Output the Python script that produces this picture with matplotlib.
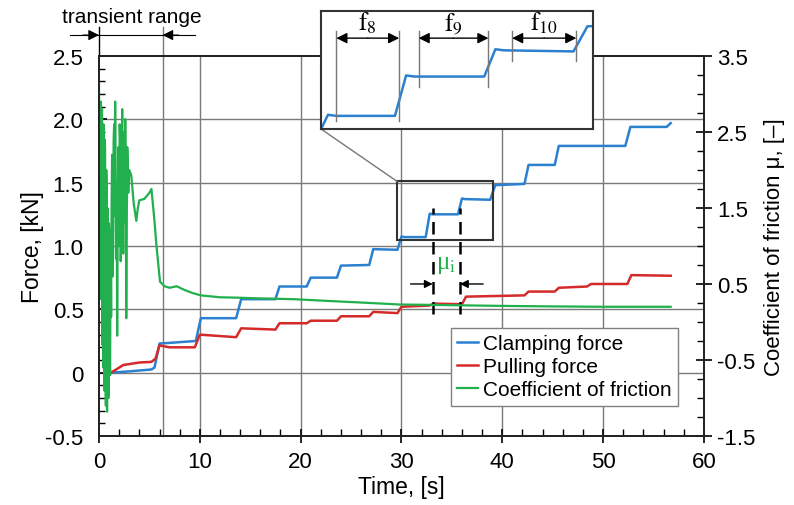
import matplotlib
matplotlib.use('Agg')
import numpy as np
import matplotlib.pyplot as plt
import matplotlib.transforms as mtransforms
from matplotlib.patches import Rectangle, ConnectionPatch
from matplotlib.ticker import MultipleLocator, FuncFormatter

plt.rcParams['font.family'] = ['Liberation Sans', 'DejaVu Sans']
plt.rcParams['mathtext.fontset'] = 'stix'
plt.rcParams['axes.unicode_minus'] = False

# clamping force [kN]
clamp_t = [1.2, 3.0, 5.2, 5.5, 6.0, 7.0, 9.6, 10.1, 13.6, 14.1, 17.5, 17.9, 20.6, 21.0,
           23.6, 24.0, 26.8, 27.2, 29.6, 30.0, 30.3, 32.4, 32.8, 33.1, 35.6, 36.0, 36.3,
           38.8, 39.3, 42.2, 42.6, 45.2, 45.6, 52.2, 52.7, 56.3, 56.7]
clamp_f = [0.0, 0.01, 0.025, 0.04, 0.23, 0.235, 0.25, 0.43, 0.43, 0.58, 0.58, 0.68, 0.68, 0.75,
           0.75, 0.845, 0.85, 0.975, 0.97, 1.075, 1.07, 1.07, 1.255, 1.25, 1.25, 1.375, 1.37,
           1.365, 1.48, 1.49, 1.64, 1.64, 1.79, 1.79, 1.94, 1.94, 1.97]

# pulling force [kN]
pull_t = [1.2, 2.4, 4.0, 5.2, 5.6, 6.0, 7.0, 9.5, 10.0, 13.6, 14.1, 17.5, 17.9, 20.6, 21.0,
          23.6, 24.0, 26.8, 27.2, 29.6, 30.0, 32.8, 33.2, 36.0, 36.4, 42.2, 42.6, 45.2, 45.6,
          48.4, 48.8, 52.4, 52.8, 56.7]
pull_f = [0.0, 0.06, 0.08, 0.085, 0.11, 0.215, 0.2, 0.2, 0.3, 0.28, 0.35, 0.34, 0.39, 0.39, 0.41,
          0.41, 0.445, 0.445, 0.48, 0.47, 0.52, 0.53, 0.545, 0.54, 0.60, 0.61, 0.64, 0.64, 0.67,
          0.68, 0.70, 0.70, 0.77, 0.765]

# coefficient of friction [-]
mu_t = [0.0, 0.05, 0.10, 0.15, 0.19, 0.22, 0.26, 0.30, 0.34, 0.38, 0.42, 0.45, 0.49, 0.52,
        0.56, 0.60, 0.64, 0.68, 0.72, 0.75, 0.78, 0.80, 0.84, 0.88, 0.92, 0.95, 0.98,
        1.02, 1.06, 1.10, 1.15, 1.20, 1.25, 1.30, 1.35, 1.40, 1.45, 1.50, 1.55, 1.60, 1.65,
        1.70, 1.75, 1.80, 1.85, 1.90, 1.95, 2.00, 2.05, 2.10, 2.15, 2.20, 2.25, 2.30,
        2.35, 2.40, 2.45, 2.50, 2.55, 2.60, 2.65, 2.70, 2.75, 2.80, 2.85, 2.90, 3.00,
        3.20, 3.45, 3.70, 3.85, 4.00, 4.50, 5.00, 5.20, 5.50, 5.70, 6.05, 6.5, 7.0, 7.7,
        8.5, 9.3, 10.1, 12.0, 13.7, 16.0, 19.3, 23.0, 26.9, 29.8, 33.0, 37.0, 41.0, 45.0,
        50.0, 56.7]
mu_v = [3.13, 1.9, 2.85, 2.2, 2.9, 0.3, 2.7, 2.8, -0.3, 2.5, -0.6, 2.6, 0.2, -0.9,
        2.4, 2.3, -0.5, -1.1, 2.0, 1.8, -0.8, -1.18, 1.5, 1.4, -0.9, -1.0, 1.3,
        1.2, -0.4, -0.7, 1.1, 0.07, 1.6, 2.2, 0.6, 0.9, 2.4, 2.6, 1.4, 2.9, 1.9,
        0.83, 1.6, -0.18, 1.2, 2.3, 1.5, 1.0, 2.6, 2.4, 0.8, 1.2, 2.2, 2.8,
        1.6, 0.9, 2.1, 2.5, 1.3, 2.67, 1.9, 0.05, 1.2, 2.3, 2.1, 1.7, 2.0,
        1.93, 1.55, 1.33, 1.5, 1.6, 1.62, 1.7, 1.75, 1.33, 1.0, 0.53, 0.47, 0.45, 0.47,
        0.42, 0.38, 0.35, 0.325, 0.32, 0.31, 0.30, 0.275, 0.25, 0.23, 0.225, 0.217, 0.21, 0.205,
        0.2, 0.2]

blue = '#2b80d0'
red = '#d42a2a'
green = '#22b04f'
grid_c = '#7a7a7a'

fig = plt.figure(figsize=(7.94, 5.06), dpi=100)
ax = fig.add_axes([0.1247, 0.1364, 0.7619, 0.751])
ax2 = ax.twinx()

ax.set_xlim(0, 60)
ax.set_ylim(-0.5, 2.5)
ax2.set_ylim(-1.5, 3.5)

for x in [10, 20, 30, 40, 50]:
    ax.axvline(x, color=grid_c, lw=1.0, zorder=0)
for y in [0, 0.5, 1.0, 1.5, 2.0]:
    ax.axhline(y, color=grid_c, lw=1.0, zorder=0)

l1, = ax.plot(clamp_t, clamp_f, color=blue, lw=1.8, label='Clamping force')
l2, = ax.plot(pull_t, pull_f, color=red, lw=1.8, label='Pulling force')
l3, = ax2.plot(mu_t, mu_v, color=green, lw=1.6, label='Coefficient of friction')

# ticks
ax.xaxis.set_major_locator(MultipleLocator(10))
ax.xaxis.set_minor_locator(MultipleLocator(2))
ax.yaxis.set_major_locator(MultipleLocator(0.5))
ax.yaxis.set_minor_locator(MultipleLocator(0.1))
ax2.yaxis.set_major_locator(MultipleLocator(1.0))
ax2.yaxis.set_minor_locator(MultipleLocator(0.25))
ax.yaxis.set_major_formatter(FuncFormatter(lambda v, p: '0' if abs(v) < 1e-9 else '%.1f' % v))
ax2.yaxis.set_major_formatter(FuncFormatter(lambda v, p: '%.1f' % v))
ax2.set_yticks([-1.5, -0.5, 0.5, 1.5, 2.5, 3.5])

ax.tick_params(axis='x', which='major', direction='inout', length=10, width=1.2, labelsize=16, pad=6)
ax.tick_params(axis='x', which='minor', direction='in', length=5, width=1.0)
ax.tick_params(axis='y', which='major', direction='in', length=6, width=1.2, labelsize=16, pad=11)
ax.tick_params(axis='y', which='minor', direction='in', length=4, width=1.0)
ax2.tick_params(axis='y', which='major', direction='inout', length=12, width=1.2, labelsize=16)
ax2.tick_params(axis='y', which='minor', direction='in', length=5, width=1.0)

for a in (ax, ax2):
    for s in a.spines.values():
        s.set_linewidth(1.3)
        s.set_color('#222222')

ax.set_xlabel('Time, [s]', fontsize=16.5, labelpad=2)
ax.set_ylabel('Force, [kN]', fontsize=16.5, labelpad=1)
ax2.set_ylabel('Coefficient of friction \u03bc, [\u2013]', fontsize=16, labelpad=6)

# transient range marker
trans = mtransforms.blended_transform_factory(ax.transData, ax.transAxes)
ax.plot([-2.9, 9.5], [1.055, 1.055], transform=trans, color='k', lw=0.8, clip_on=False)
ax.plot([0, 0], [1.0, 1.075], transform=trans, color='k', lw=1.0, clip_on=False)
ax.plot([6.3, 6.3], [0, 1.075], transform=trans, color=grid_c, lw=1.0, clip_on=False, zorder=0)
arr = dict(arrowstyle='-|>', color='k', lw=0.8, mutation_scale=16, shrinkA=0, shrinkB=0)
ax.annotate('', xy=(0, 1.055), xycoords=trans, xytext=(-1.6, 1.055), textcoords=trans,
            arrowprops=arr, annotation_clip=False)
ax.annotate('', xy=(6.3, 1.055), xycoords=trans, xytext=(7.9, 1.055), textcoords=trans,
            arrowprops=arr, annotation_clip=False)
ax.text(3.3, 1.105, 'transient range', transform=trans, ha='center', va='center', fontsize=15)

# mu_i marker
for x in [33.1, 35.8]:
    ax.plot([x, x], [0.46, 1.30], color='k', lw=1.8, ls=(0, (5, 3)), zorder=5)
arr2 = dict(arrowstyle='-|>', color='k', lw=1.0, mutation_scale=12, shrinkA=0, shrinkB=0)
ax.annotate('', xy=(33.1, 0.70), xytext=(30.9, 0.70), arrowprops=arr2)
ax.annotate('', xy=(35.8, 0.70), xytext=(38.1, 0.70), arrowprops=arr2)
ax.text(34.45, 0.86, '\u03bc$_\\mathrm{i}$', color=green, fontsize=18, ha='center', va='center',
        family=['Liberation Serif', 'DejaVu Serif'])

# zoom box
ax.add_patch(Rectangle((29.56, 1.044), 9.54, 0.466, fill=False, edgecolor='#333333', lw=1.5, zorder=4))

leg = ax2.legend(handles=[l1, l2, l3], loc='lower right', bbox_to_anchor=(0.957, 0.08),
                 fontsize=15, frameon=True, fancybox=False, framealpha=1, edgecolor='#808080',
                 handlelength=1.0, handletextpad=0.25, labelspacing=0.2, borderpad=0.3,
                 borderaxespad=0)
leg.get_frame().set_linewidth(1.0)

# inset
ins = fig.add_axes([0.4043, 0.7431, 0.3426, 0.2332], zorder=10)
ins.plot(clamp_t, clamp_f, color=blue, lw=1.8)
ins.set_xlim(29.75, 39.5)
ins.set_ylim(1.01, 1.55)
ins.set_xticks([])
ins.set_yticks([])
for s in ins.spines.values():
    s.set_linewidth(1.5)
    s.set_color('#333333')

itr = mtransforms.blended_transform_factory(ins.transData, ins.transAxes)
dims = [('8', 30.3, 32.55, 0.068), ('9', 33.25, 35.75, 0.356), ('10', 36.6, 38.9, 0.576)]
arr3 = dict(arrowstyle='-|>', color='k', lw=1.0, mutation_scale=16, shrinkA=0, shrinkB=0)
for lab, x0, x1, yb in dims:
    for x in (x0, x1):
        ins.plot([x, x], [yb, 0.83], transform=itr, color='#777777', lw=1.0)
    xm = (x0 + x1) / 2
    ins.annotate('', xy=(x0, 0.77), xycoords=itr, xytext=(xm, 0.77), textcoords=itr, arrowprops=arr3)
    ins.annotate('', xy=(x1, 0.77), xycoords=itr, xytext=(xm, 0.77), textcoords=itr, arrowprops=arr3)
    ins.text(xm, 0.9, r'$\mathrm{f}_{%s}$' % lab, transform=itr, ha='center',
             va='center', fontsize=18)

con = ConnectionPatch(xyA=(29.56, 1.51), coordsA=ax.transData, xyB=(0, 0), coordsB=ins.transAxes,
                      color='#777777', lw=1.0)
fig.add_artist(con)

fig.savefig('out.png', dpi=100)
